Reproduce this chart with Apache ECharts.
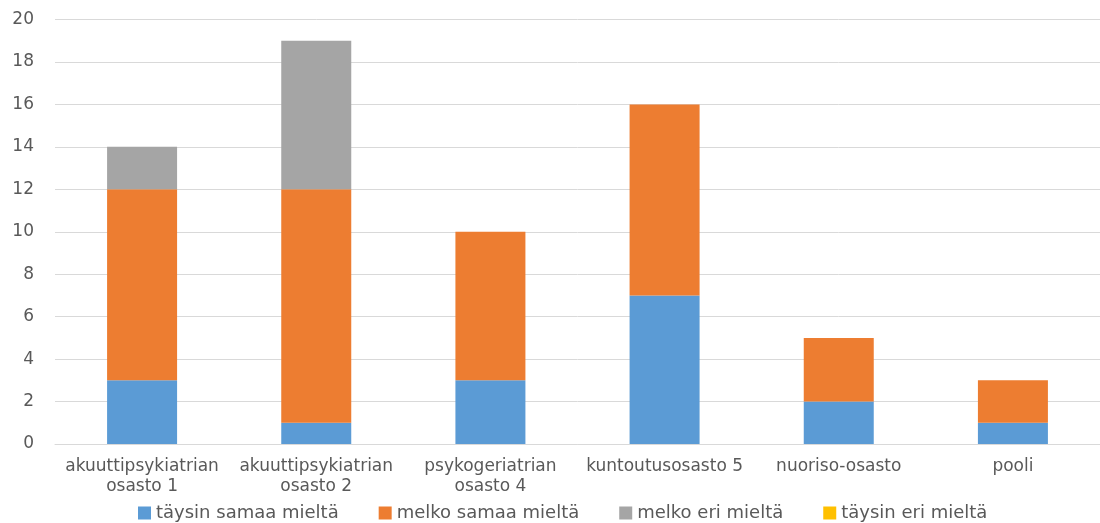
<!DOCTYPE html>
<html><head><meta charset="utf-8">
<script src="https://cdn.jsdelivr.net/npm/echarts@6/dist/echarts.min.js"></script>
<style>html,body{margin:0;padding:0;background:#fff}#c{width:1100px;height:523px}</style>
</head><body><div id="c"></div>
<script>
const categories = ["akuuttipsykiatrian\nosasto 1","akuuttipsykiatrian\nosasto 2","psykogeriatrian\nosasto 4","kuntoutusosasto 5","nuoriso-osasto","pooli"];
const seriesNames = ["täysin samaa mieltä","melko samaa mieltä","melko eri mieltä","täysin eri mieltä"];
const taysinSamaa = [3,1,3,7,2,1];
const melkoSamaa = [9,11,7,9,3,2];
const melkoEri = [2,7,0,0,0,0];
const taysinEri = [0,0,0,0,0,0];
const colors = ["#5B9BD5","#ED7D31","#A5A5A5","#FFC000"];
const values = [taysinSamaa, melkoSamaa, melkoEri, taysinEri];
const font = "'DejaVu Sans', sans-serif";
const chart = echarts.init(document.getElementById('c'));
chart.setOption({
  animation:false,
  grid:{left:55,right:-2,top:19.5,bottom:79,containLabel:false},
  legend:{top:499,left:133,itemWidth:13,itemHeight:13,itemGap:40,icon:'rect',
    textStyle:{color:'#595959',fontSize:18,fontFamily:font},data:seriesNames},
  xAxis:{type:'category',data:categories,
    axisLine:{lineStyle:{color:'#D9D9D9'}},axisTick:{show:false},
    axisLabel:{color:'#595959',fontSize:17,fontFamily:font,lineHeight:20.5,margin:12,interval:0}},
  yAxis:{type:'value',min:0,max:20,interval:2,
    axisLine:{show:false},axisTick:{show:false},
    splitLine:{lineStyle:{color:'#D9D9D9'}},
    axisLabel:{color:'#595959',fontSize:17,fontFamily:font,margin:21}},
  series: seriesNames.map((n,i)=>({name:n,type:'bar',stack:'s',barWidth:70,
    itemStyle:{color:colors[i]},data:values[i]}))
});
</script></body></html>
